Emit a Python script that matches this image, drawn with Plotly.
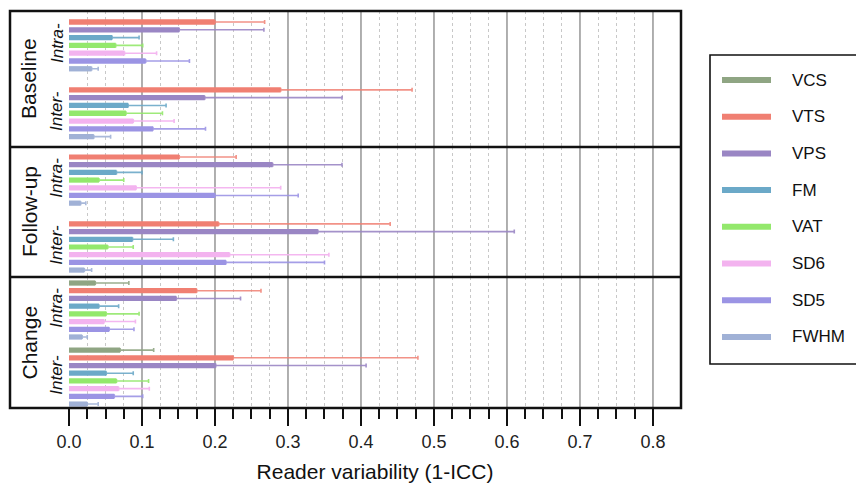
import plotly.graph_objects as go

# ---------------- data ----------------
series = ["VCS", "VTS", "VPS", "FM", "VAT", "SD6", "SD5", "FWHM"]
colors = ["#8fa583", "#f07f72", "#9a86c4", "#6ba9c8", "#93e86c", "#f3b3ef", "#9b94e4", "#a0b1d6"]
err_colors = ["rgba(143,165,131,0.9)", "rgba(240,127,114,0.85)", "rgba(154,134,196,0.9)",
              "rgba(107,169,200,0.9)", "rgba(147,232,108,0.9)", "rgba(243,179,239,0.95)",
              "rgba(155,148,228,0.9)", "rgba(160,177,214,0.9)"]

panels = ["Baseline", "Follow-up", "Change"]
groups = ["Intra-", "Inter-"]

# mean (bar) and upper end of error bar, in series order; None = not shown
baseline_intra_mean = [None, 0.200, 0.151, 0.059, 0.064, 0.076, 0.105, 0.031]
baseline_intra_upper = [None, 0.268, 0.267, 0.096, 0.101, 0.120, 0.165, 0.040]
baseline_inter_mean = [None, 0.290, 0.186, 0.081, 0.078, 0.088, 0.115, 0.034]
baseline_inter_upper = [None, 0.470, 0.374, 0.133, 0.128, 0.144, 0.187, 0.057]

followup_intra_mean = [None, 0.151, 0.279, 0.065, 0.041, 0.092, 0.200, 0.016]
followup_intra_upper = [None, 0.229, 0.374, 0.100, 0.075, 0.290, 0.314, 0.023]
followup_inter_mean = [None, 0.205, 0.341, 0.087, 0.053, 0.220, 0.215, 0.021]
followup_inter_upper = [None, 0.440, 0.610, 0.143, 0.088, 0.356, 0.350, 0.031]

change_intra_mean = [0.036, 0.175, 0.147, 0.041, 0.051, 0.048, 0.055, 0.018]
change_intra_upper = [0.082, 0.263, 0.235, 0.068, 0.096, 0.091, 0.089, 0.025]
change_inter_mean = [0.070, 0.225, 0.201, 0.051, 0.065, 0.068, 0.062, 0.025]
change_inter_upper = [0.116, 0.478, 0.407, 0.088, 0.109, 0.110, 0.101, 0.040]

major_ticks = [0.0, 0.1, 0.2, 0.3, 0.4, 0.5, 0.6, 0.7, 0.8]
major_labels = ["0.0", "0.1", "0.2", "0.3", "0.4", "0.5", "0.6", "0.7", "0.8"]
minor_ticks = [round(i * 0.025, 3) for i in range(33) if i % 4 != 0]

panel_data = {
    "Baseline": [(baseline_intra_mean, baseline_intra_upper), (baseline_inter_mean, baseline_inter_upper)],
    "Follow-up": [(followup_intra_mean, followup_intra_upper), (followup_inter_mean, followup_inter_upper)],
    "Change": [(change_intra_mean, change_intra_upper), (change_inter_mean, change_inter_upper)],
}

# ---------------- layout geometry ----------------
W, H = 856, 486
L, R, T, B = 69, 175, 11, 78
PW, PH = W - L - R, H - T - B


def px(xp):
    return (xp - L) / PW


def py(yp):
    return (H - B - yp) / PH


group_offset = [0.0, 8.7]
panel_domains = [[py(147), 1.0], [py(277), py(147)], [0.0, py(277)]]
panel_yranges = [[16.03, -1.41], [15.6, -1.3], [16.21, -0.78]]
xrange_ = [0, 0.8384]

FONT = "Arial, Liberation Sans, Helvetica, sans-serif"

fig = go.Figure()
annotations = []

for p_i, pname in enumerate(panels):
    ax = "" if p_i == 0 else str(p_i + 1)
    per_series = {s: ([], [], []) for s in series}
    centers = []
    for g_i, (means, uppers) in enumerate(panel_data[pname]):
        k = 0
        for s_i, s in enumerate(series):
            m = means[s_i]
            if m is None:
                continue
            per_series[s][0].append(group_offset[g_i] + k)
            per_series[s][1].append(m)
            per_series[s][2].append(uppers[s_i] - m)
            k += 1
        centers.append(group_offset[g_i] + (k - 1) / 2)
    for s_i, s in enumerate(series):
        ys, xs, es = per_series[s]
        if not ys:
            continue
        fig.add_trace(go.Bar(
            x=xs, y=ys, orientation="h", width=0.68,
            marker=dict(color=colors[s_i], line=dict(width=0)),
            error_x=dict(type="data", array=es, arrayminus=[0] * len(es), symmetric=False,
                         color=err_colors[s_i], thickness=1.6, width=2),
            xaxis="x" + ax, yaxis="y" + ax, showlegend=False, name=s,
        ))
    # panel label
    annotations.append(dict(text=pname, textangle=-90, xref="paper", x=px(29), xanchor="center",
                            yref=f"y{ax} domain", y=0.5, yanchor="middle", showarrow=False,
                            font=dict(size=21, color="#111", family=FONT)))
    for g_i, gname in enumerate(groups):
        annotations.append(dict(text=f"<i>{gname}</i>", textangle=-90, xref="paper", x=px(57),
                                xanchor="center", yref="y" + ax, y=centers[g_i] - 0.3,
                                yanchor="middle", showarrow=False,
                                font=dict(size=17, color="#111", family=FONT)))
    fig.layout["yaxis" + ax] = dict(domain=panel_domains[p_i], range=panel_yranges[p_i],
                                   anchor="x" + ax, showticklabels=False, showgrid=False,
                                   zeroline=False, ticks="")
    is_bottom = p_i == 2
    fig.layout["xaxis" + ax] = dict(
        domain=[0, 1], anchor="y" + ax, range=xrange_, showgrid=False, zeroline=False,
        tickmode="array", tickvals=major_ticks, ticktext=major_labels,
        showticklabels=is_bottom, ticks="outside" if is_bottom else "",
        ticklen=17, tickwidth=2, tickcolor="#111",
        tickfont=dict(size=18, color="#222", family=FONT),
        minor=dict(tickmode="array", tickvals=minor_ticks, showgrid=True, griddash="dot",
                   gridcolor="#c8c8c8", gridwidth=1,
                   ticks="outside" if is_bottom else "", ticklen=10, tickwidth=2,
                   tickcolor="#111"),
        title=dict(text="Reader variability (1-ICC)" if is_bottom else "",
                   font=dict(size=21, color="#111", family=FONT), standoff=13),
    )

shapes = []
# major grid lines
for v in major_ticks[1:]:
    shapes.append(dict(type="line", xref="x3", yref="paper", x0=v, x1=v, y0=0, y1=1,
                       line=dict(color="#9c9c9c", width=1.6), layer="below"))
# frame and separators
shapes.append(dict(type="rect", xref="paper", yref="paper", x0=px(10), x1=1.0, y0=0, y1=1,
                   line=dict(color="#111", width=2.5)))
for yv in [py(147), py(277)]:
    shapes.append(dict(type="line", xref="paper", yref="paper", x0=px(10), x1=1.0, y0=yv, y1=yv,
                       line=dict(color="#111", width=2.5)))

# legend (drawn)
shapes.append(dict(type="rect", xref="paper", yref="paper", x0=px(710), x1=px(862),
                   y0=py(364), y1=py(55), line=dict(color="#111", width=1.6)))
for s_i, s in enumerate(series):
    yc = 80 + s_i * 36.7
    shapes.append(dict(type="line", xref="paper", yref="paper", x0=px(722), x1=px(771),
                       y0=py(yc), y1=py(yc), line=dict(color=colors[s_i], width=6)))
    annotations.append(dict(text=s, xref="paper", yref="paper", x=px(790), y=py(yc),
                            xanchor="left", yanchor="middle", showarrow=False,
                            font=dict(size=17, color="#111", family=FONT)))

fig.update_layout(
    width=W, height=H, margin=dict(l=L, r=R, t=T, b=B, autoexpand=False),
    paper_bgcolor="white", plot_bgcolor="white",
    barmode="overlay", showlegend=False,
    shapes=shapes, annotations=annotations,
    font=dict(family=FONT),
)

fig.write_html("out.html", config={"displayModeBar": False},
               post_script="document.body.style.margin='0';document.body.style.overflow='hidden';")
